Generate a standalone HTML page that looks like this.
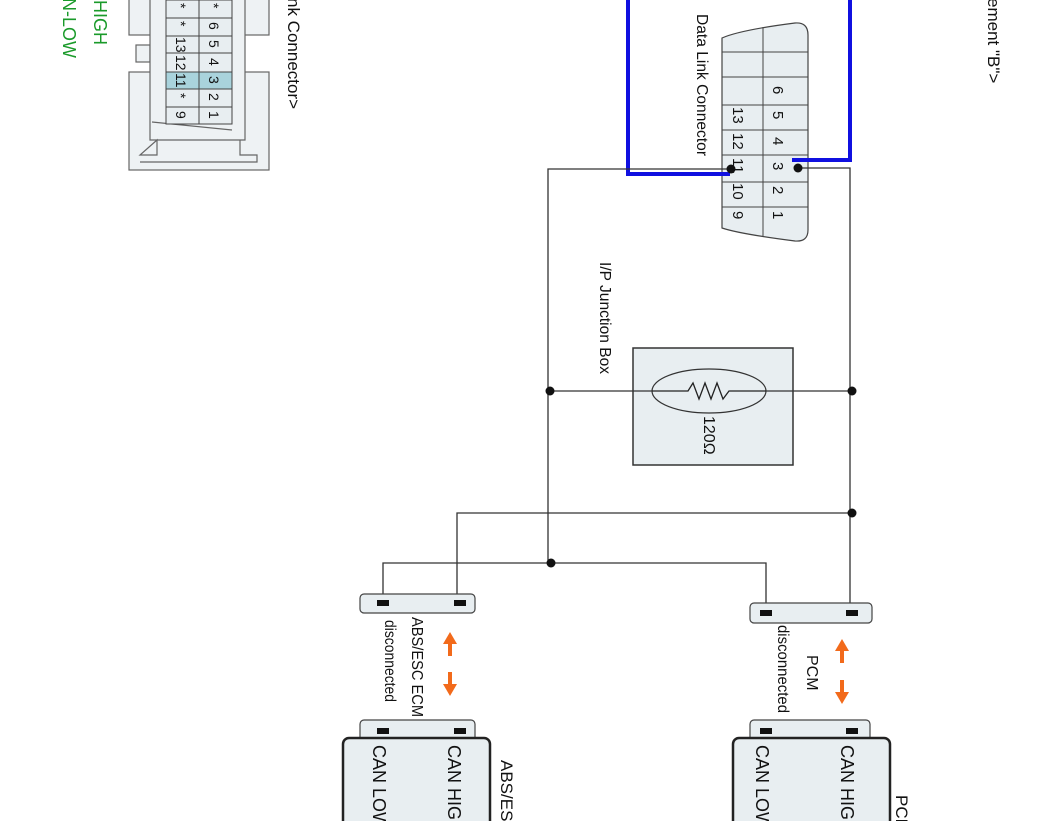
<!DOCTYPE html>
<html><head><meta charset="utf-8"><style>
html,body{margin:0;padding:0;background:#fff;width:1062px;height:821px;overflow:hidden}
svg{display:block}
text{font-family:"Liberation Sans",sans-serif;fill:#111}
</style></head><body>
<svg width="1062" height="821" viewBox="0 0 1062 821" xmlns="http://www.w3.org/2000/svg">
<defs>
<marker id="ah" markerWidth="14" markerHeight="14" refX="4" refY="7" orient="auto" markerUnits="userSpaceOnUse"><path d="M0,0 L12,7 L0,14 z" fill="#f26a1b"/></marker>
</defs>
<text transform="translate(94,0) rotate(90)" font-size="18" style="fill:#1a9a2a">HIGH</text>
<text transform="translate(63,-2) rotate(90)" font-size="18" style="fill:#1a9a2a">N-LOW</text>

<g stroke="#666" stroke-width="1.2" fill="#eef2f4">
<rect x="129" y="-5" width="140" height="40"/>
<rect x="136" y="45" width="14" height="17"/>
<rect x="129" y="72" width="140" height="98"/>
<path d="M150,-5 L245,-5 L245,140 L150,140 Z"/>
<path d="M152,122 L232,130" fill="none"/>
<path d="M140,162 L257,162 L257,155 L240,155 L240,140 M157,140 L157,155 L140,155 Z" fill="none"/>
</g>
<g stroke="#444" stroke-width="1" fill="#e8eef1">
<rect x="166" y="0" width="33" height="18"/>
<rect x="199" y="0" width="33" height="18"/>
<rect x="166" y="18" width="33" height="18"/>
<rect x="199" y="18" width="33" height="18"/>
<rect x="166" y="36" width="33" height="17"/>
<rect x="199" y="36" width="33" height="17"/>
<rect x="166" y="53" width="33" height="19"/>
<rect x="199" y="53" width="33" height="19"/>
<rect x="166" y="72" width="33" height="17" fill="#a9d3dc"/>
<rect x="199" y="72" width="33" height="17" fill="#a9d3dc"/>
<rect x="166" y="89" width="33" height="18"/>
<rect x="199" y="89" width="33" height="18"/>
<rect x="166" y="107" width="33" height="17"/>
<rect x="199" y="107" width="33" height="17"/>
</g>
<g font-size="14">
<text transform="translate(176,3) rotate(90)">*</text><text transform="translate(209,3) rotate(90)">*</text>
<text transform="translate(176,21) rotate(90)">*</text><text transform="translate(209,22) rotate(90)">6</text>
<text transform="translate(176,37) rotate(90)">13</text><text transform="translate(209,40) rotate(90)">5</text>
<text transform="translate(176,55) rotate(90)">12</text><text transform="translate(209,58) rotate(90)">4</text>
<text transform="translate(176,73) rotate(90)">11</text><text transform="translate(209,76) rotate(90)">3</text>
<text transform="translate(176,93) rotate(90)">*</text><text transform="translate(209,93) rotate(90)">2</text>
<text transform="translate(176,111) rotate(90)">9</text><text transform="translate(209,111) rotate(90)">1</text>
</g>
<text transform="translate(288,-2) rotate(90)" font-size="17">nk Connector&gt;</text>
<text transform="translate(988,-2) rotate(90)" font-size="17">ement "B"&gt;</text>

<path d="M722,38 L722,228 Q740,234 795,241 Q808,242 808,230 L808,35 Q808,22 795,23 Q740,30 722,38 Z" fill="#e8eef1" stroke="#444" stroke-width="1.2"/>
<g stroke="#444" stroke-width="1">
<line x1="763" y1="27" x2="763" y2="236"/>
<line x1="722" y1="52" x2="808" y2="52"/>
<line x1="722" y1="77" x2="808" y2="77"/>
<line x1="722" y1="105" x2="808" y2="105"/>
<line x1="722" y1="130" x2="808" y2="130"/>
<line x1="722" y1="155" x2="808" y2="155"/>
<line x1="722" y1="182" x2="808" y2="182"/>
<line x1="722" y1="207" x2="808" y2="207"/>
</g>
<g font-size="15">
<text transform="translate(733,107) rotate(90)">13</text>
<text transform="translate(733,133) rotate(90)">12</text>
<text transform="translate(733,158) rotate(90)">11</text>
<text transform="translate(733,183) rotate(90)">10</text>
<text transform="translate(733,211) rotate(90)">9</text>
<text transform="translate(773,86) rotate(90)">6</text>
<text transform="translate(773,111) rotate(90)">5</text>
<text transform="translate(773,137) rotate(90)">4</text>
<text transform="translate(773,162) rotate(90)">3</text>
<text transform="translate(773,186) rotate(90)">2</text>
<text transform="translate(773,211) rotate(90)">1</text>
</g>
<text transform="translate(697,14) rotate(90)" font-size="16" textLength="142" lengthAdjust="spacingAndGlyphs">Data Link Connector</text>

<path d="M628,0 L628,174 L730,174" fill="none" stroke="#1010e0" stroke-width="4"/>
<path d="M850,0 L850,160 L792,160" fill="none" stroke="#1010e0" stroke-width="4"/>

<g stroke="#333" stroke-width="1.3" fill="none">
<path d="M731,169 L548,169 L548,565"/>
<path d="M798,168 L850,168 L850,613"/>
<line x1="548" y1="391" x2="852" y2="391"/>
<path d="M852,513 L457,513 L457,598"/>
<path d="M383,598 L383,563 L766,563 L766,610"/>
</g>
<g fill="#111">
<circle cx="731" cy="169" r="4.5"/><circle cx="798" cy="168" r="4.5"/>
<circle cx="550" cy="391" r="4.5"/><circle cx="852" cy="391" r="4.5"/>
<circle cx="852" cy="513" r="4.5"/><circle cx="551" cy="563" r="4.5"/>
</g>

<rect x="633" y="348" width="160" height="117" fill="#e8eef1" stroke="#333" stroke-width="1.5"/>
<line x1="633" y1="391" x2="793" y2="391" stroke="#333" stroke-width="1.2"/>
<ellipse cx="709" cy="391" rx="57" ry="22" fill="#e8eef1" stroke="#333" stroke-width="1.2"/>
<path d="M652,391 L688,391 L693,383 L699,399 L705,383 L711,399 L717,383 L723,399 L729,391 L766,391" fill="none" stroke="#222" stroke-width="1.3"/>
<text transform="translate(704,416) rotate(90)" font-size="16">120Ω</text>
<text transform="translate(600,262) rotate(90)" font-size="16" textLength="112" lengthAdjust="spacingAndGlyphs">I/P Junction Box</text>

<rect x="360" y="594" width="115" height="19" rx="4" fill="#e8eef1" stroke="#444" stroke-width="1.2"/>
<rect x="377" y="600" width="12" height="6" fill="#111"/><rect x="454" y="600" width="12" height="6" fill="#111"/>
<rect x="750" y="603" width="122" height="20" rx="4" fill="#e8eef1" stroke="#444" stroke-width="1.2"/>
<rect x="760" y="610" width="12" height="6" fill="#111"/><rect x="846" y="610" width="12" height="6" fill="#111"/>

<g stroke="#f26a1b" stroke-width="4" fill="none">
<line x1="450" y1="656" x2="450" y2="640" marker-end="url(#ah)"/>
<line x1="450" y1="672" x2="450" y2="688" marker-end="url(#ah)"/>
<line x1="842" y1="663" x2="842" y2="647" marker-end="url(#ah)"/>
<line x1="842" y1="680" x2="842" y2="696" marker-end="url(#ah)"/>
</g>
<text transform="translate(412,617) rotate(90)" font-size="16" textLength="100" lengthAdjust="spacingAndGlyphs">ABS/ESC ECM</text>
<text transform="translate(385,620) rotate(90)" font-size="16" textLength="82" lengthAdjust="spacingAndGlyphs">disconnected</text>
<text transform="translate(807,655) rotate(90)" font-size="16">PCM</text>
<text transform="translate(778,625) rotate(90)" font-size="16" textLength="88" lengthAdjust="spacingAndGlyphs">disconnected</text>

<rect x="360" y="720" width="115" height="24" rx="4" fill="#e8eef1" stroke="#444" stroke-width="1.2"/>
<rect x="377" y="728" width="12" height="6" fill="#111"/><rect x="454" y="728" width="12" height="6" fill="#111"/>
<rect x="343" y="738" width="147" height="100" rx="6" fill="#e8eef1" stroke="#222" stroke-width="2.5"/>
<text transform="translate(448,745) rotate(90)" font-size="18">CAN HIGH</text>
<text transform="translate(373,745) rotate(90)" font-size="18">CAN LOW</text>
<text transform="translate(501,760) rotate(90)" font-size="17">ABS/ESC</text>

<rect x="750" y="720" width="120" height="24" rx="4" fill="#e8eef1" stroke="#444" stroke-width="1.2"/>
<rect x="760" y="728" width="12" height="6" fill="#111"/><rect x="846" y="728" width="12" height="6" fill="#111"/>
<rect x="733" y="738" width="157" height="100" rx="6" fill="#e8eef1" stroke="#222" stroke-width="2.5"/>
<text transform="translate(841,745) rotate(90)" font-size="18">CAN HIGH</text>
<text transform="translate(756,745) rotate(90)" font-size="18">CAN LOW</text>
<text transform="translate(896,795) rotate(90)" font-size="17">PCM</text>
</svg>
</body></html>
